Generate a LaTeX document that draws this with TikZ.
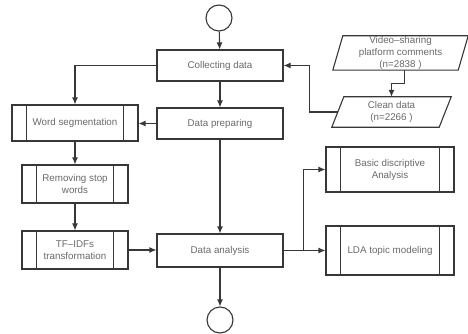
\documentclass[tikz,border=0pt]{standalone}
\usepackage{fontspec}
\setmainfont{Liberation Sans}
\usetikzlibrary{arrows.meta,calc}
\definecolor{linec}{RGB}{55,55,55}
\definecolor{textc}{RGB}{105,105,105}
\tikzset{
  every node/.style={font=\fontsize{9.8}{12}\selectfont, text=textc, align=center, inner sep=0pt},
  box/.style={draw=linec, line width=1.1pt, rectangle},
  term/.style={draw=linec, line width=1.1pt, circle, minimum size=26pt},
  para/.style={rectangle},
  arr/.style={draw=linec, line width=1.1pt, -{Latex[length=7pt,width=6pt]}},
  ln/.style={draw=linec, line width=1.1pt},
}
\begin{document}
\begin{tikzpicture}[x=1pt,y=-1pt]
\useasboundingbox (0,0) rectangle (468,334);
% terminals
\node[term] (start) at (219,18) {};
\node[term] (stop) at (220,320) {};
% main column
\node[box, minimum width=126pt, minimum height=31pt] (collect) at (220,65.5) {Collecting data};
\node[box, minimum width=126pt, minimum height=31pt] (prep) at (220,123.5) {Data preparing};
\node[box, minimum width=126pt, minimum height=33pt] (analysis) at (220,250.5) {Data analysis};
% left subprocesses
\node[box, minimum width=126pt, minimum height=36pt] (wordseg) at (75,123) {Word segmentation};
\node[box, minimum width=106pt, minimum height=38pt] (remove) at (75,184) {Removing stop\\words};
\node[box, minimum width=106pt, minimum height=38pt] (tfidf) at (75,250) {TF–IDFs\\transformation};
% right subprocesses
\node[box, minimum width=128pt, minimum height=45pt] (basic) at (390,169.5) {Basic discriptive\\Analysis};
\node[box, minimum width=128pt, minimum height=49pt] (lda) at (390,250.5) {LDA topic modeling};
\foreach \n in {wordseg,remove,tfidf,basic,lda}{
  \draw[ln] ([xshift=15pt]\n.north west) -- ([xshift=15pt]\n.south west);
  \draw[ln] ([xshift=-15pt]\n.north east) -- ([xshift=-15pt]\n.south east);
}
% data parallelograms
\node[para, minimum width=125pt, minimum height=34pt] (video) at (400.5,53) {Video–sharing\\platform comments\\(n=2838 )};
\node[para, minimum width=107pt, minimum height=30pt] (clean) at (391.5,112) {Clean data\\(n=2266 )};
\draw[ln] ([xshift=5pt]video.north west) -- ([xshift=5pt]video.north east) -- ([xshift=-5pt]video.south east) -- ([xshift=-5pt]video.south west) -- cycle;
\draw[ln] ([xshift=6pt]clean.north west) -- ([xshift=6pt]clean.north east) -- ([xshift=-6pt]clean.south east) -- ([xshift=-6pt]clean.south west) -- cycle;
% connectors
\draw[arr] (start) -- (collect);
\draw[arr] (collect) -- (prep);
\draw[arr] (prep) -- (analysis);
\draw[arr] (analysis) -- (stop);
\draw[arr] ([xshift=4pt]video.south) -- ++(0,13) -| (clean.north);
\draw[arr] (clean.west) -- ++(-28,0) |- (collect.east);
\draw[arr] (collect.west) -| (wordseg.north);
\draw[arr] (prep.west) -- (prep.west -| wordseg.east);
\draw[arr] (wordseg) -- (remove);
\draw[arr] (remove) -- (tfidf);
\draw[arr] (tfidf.east) -- (tfidf.east -| analysis.west);
\draw[arr] (analysis.east) -- (lda.west);
\draw[arr] (analysis.east) -- ++(20,0) |- (basic.west);
\end{tikzpicture}
\end{document}
